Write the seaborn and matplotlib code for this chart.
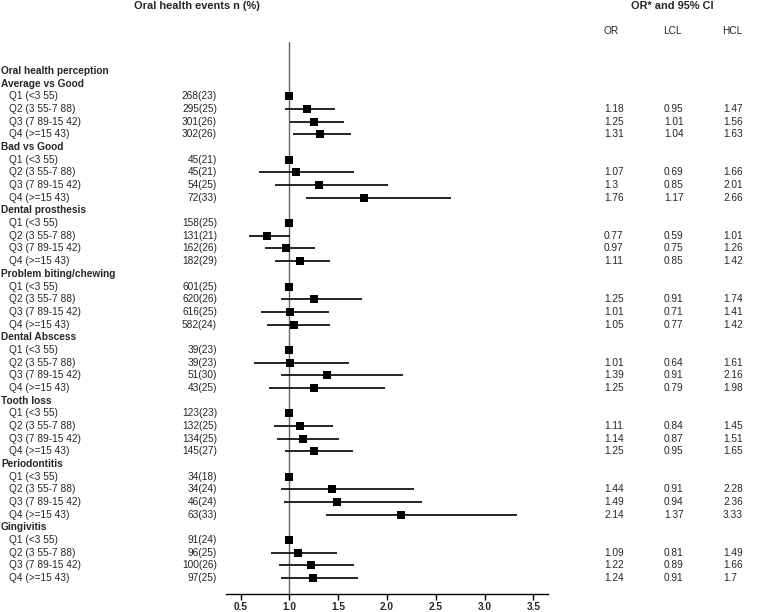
import numpy as np
import pandas as pd
import seaborn as sns
import matplotlib.pyplot as plt
from matplotlib.transforms import blended_transform_factory

# 数据
groups = ["Average vs Good", "Bad vs Good", "Dental prosthesis", "Problem biting/chewing",
          "Dental Abscess", "Tooth loss", "Periodontitis", "Gingivitis"]
quartiles = ["Q1 (<3 55)", "Q2 (3 55-7 88)", "Q3 (7 89-15 42)", "Q4 (>=15 43)"]
events = [
    ["268(23)", "295(25)", "301(26)", "302(26)"],
    ["45(21)", "45(21)", "54(25)", "72(33)"],
    ["158(25)", "131(21)", "162(26)", "182(29)"],
    ["601(25)", "620(26)", "616(25)", "582(24)"],
    ["39(23)", "39(23)", "51(30)", "43(25)"],
    ["123(23)", "132(25)", "134(25)", "145(27)"],
    ["34(18)", "34(24)", "46(24)", "63(33)"],
    ["91(24)", "96(25)", "100(26)", "97(25)"],
]
# Q2-Q4 (Q1 为参照组, OR=1)
or_vals = [[1.18, 1.25, 1.31], [1.07, 1.3, 1.76], [0.77, 0.97, 1.11], [1.25, 1.01, 1.05],
           [1.01, 1.39, 1.25], [1.11, 1.14, 1.25], [1.44, 1.49, 2.14], [1.09, 1.22, 1.24]]
lcl_vals = [[0.95, 1.01, 1.04], [0.69, 0.85, 1.17], [0.59, 0.75, 0.85], [0.91, 0.71, 0.77],
            [0.64, 0.91, 0.79], [0.84, 0.87, 0.95], [0.91, 0.94, 1.37], [0.81, 0.89, 0.91]]
hcl_vals = [[1.47, 1.56, 1.63], [1.66, 2.01, 2.66], [1.01, 1.26, 1.42], [1.74, 1.41, 1.42],
            [1.61, 2.16, 1.98], [1.45, 1.51, 1.65], [2.28, 2.36, 3.33], [1.49, 1.66, 1.7]]
x_ticks = [0.5, 1.0, 1.5, 2.0, 2.5, 3.0, 3.5]

# 构建行表
rows = [{"label": "Oral health perception", "header": True}]
for g, name in enumerate(groups):
    rows.append({"label": name, "header": True})
    for q in range(4):
        r = {"label": quartiles[q], "header": False, "n": events[g][q], "OR": 1.0}
        if q > 0:
            r.update(OR=or_vals[g][q - 1], LCL=lcl_vals[g][q - 1], HCL=hcl_vals[g][q - 1])
        rows.append(r)
df = pd.DataFrame(rows)
df["row"] = np.arange(len(df))

sns.set_style("white")
plt.rcParams['font.family'] = ['Liberation Sans', 'DejaVu Sans']
fs = 7.3

fig = plt.figure(figsize=(7.84, 6.12), dpi=100)
ax = fig.add_axes([226 / 784, 18 / 612, 322 / 784, 552 / 612])

ax.axvline(1.0, color='#666666', lw=1, zorder=1)
ci = df.dropna(subset=["LCL"])
ax.hlines(ci["row"], ci["LCL"], ci["HCL"], color='black', lw=1.2, zorder=2)
pts = df.dropna(subset=["OR"])
sns.scatterplot(data=pts, x="OR", y="row", marker='s', s=28, color='black',
                edgecolor='black', linewidth=0, ax=ax, zorder=3, legend=False)

ax.set_xlim(0.35, 3.65)
ax.set_ylim(41.26, -2.29)
ax.set_xticks(x_ticks)
ax.set_xticklabels([f"{t:.1f}" for t in x_ticks], fontsize=fs, fontweight='bold')
ax.set_yticks([])
ax.set_xlabel("")
ax.set_ylabel("")
for s in ["top", "left", "right"]:
    ax.spines[s].set_visible(False)
ax.spines["bottom"].set_color('black')
ax.spines["bottom"].set_linewidth(1)
ax.tick_params(axis='x', direction='out', length=4, width=1, color='black', pad=2, bottom=True)

# 文本列
tr = blended_transform_factory(fig.transFigure, ax.transData)
for _, r in df.iterrows():
    if r["header"]:
        ax.text(1 / 784, r["row"], r["label"], transform=tr, fontsize=fs,
                fontweight='bold', va='center', ha='left')
    else:
        ax.text(9 / 784, r["row"], r["label"], transform=tr, fontsize=fs, va='center', ha='left')
        ax.text(217 / 784, r["row"], r["n"], transform=tr, fontsize=fs, va='center', ha='right')
        if not np.isnan(r["LCL"]):
            for xp, col in zip([604, 664, 723], ["OR", "LCL", "HCL"]):
                ax.text(xp / 784, r["row"], str(r[col]), transform=tr, fontsize=fs,
                        va='center', ha='left')

fig.text(197 / 784, 1 - 6 / 612, "Oral health events n (%)", fontsize=7.9, fontweight='bold',
         ha='center', va='center')
fig.text(672 / 784, 1 - 6 / 612, "OR* and 95% CI", fontsize=7.9, fontweight='bold',
         ha='center', va='center')
for xp, h in zip([604, 663, 722], ["OR", "LCL", "HCL"]):
    fig.text(xp / 784, 1 - 31 / 612, h, fontsize=fs, ha='left', va='center')

fig.savefig("out.png", dpi=100)
